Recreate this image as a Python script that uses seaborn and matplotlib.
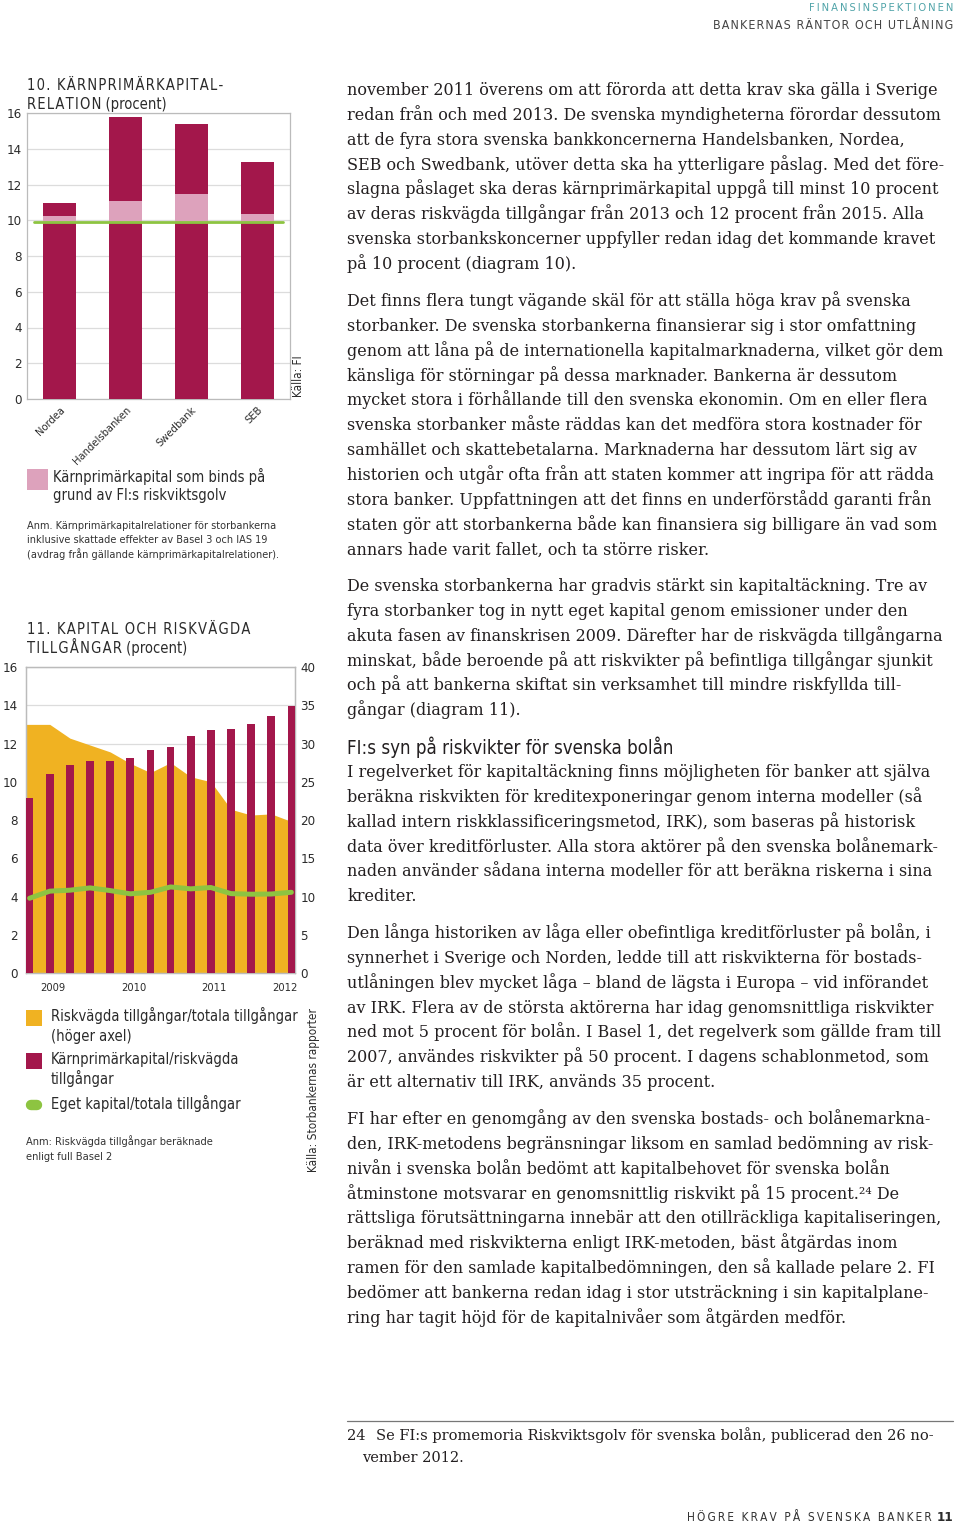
import numpy as np
import matplotlib
matplotlib.use("Agg")
import matplotlib.pyplot as plt
import seaborn as sns
from matplotlib.patches import Rectangle
from matplotlib.lines import Line2D

# ---------------- data ----------------
# Chart 10: Kärnprimärkapitalrelation (procent)
banks = ["Nordea", "Handelsbanken", "Swedbank", "SEB"]
karn_total = [10.97, 15.76, 15.39, 13.25]      # total bar height
floor_top = [10.22, 11.06, 11.47, 10.34]       # top of floor-bound (pink) part
floor_base = [9.9, 9.9, 9.9, 9.9]              # bottom of pink part
krav_level = 9.9                                # green requirement line
y10_ticks = [0, 2, 4, 6, 8, 10, 12, 14, 16]

# Chart 11: Kapital och riskvägda tillgångar (procent), quarterly 2009K1-2012K2
quarters = ["2009K1", "2009K2", "2009K3", "2009K4", "2010K1", "2010K2", "2010K3",
            "2010K4", "2011K1", "2011K2", "2011K3", "2011K4", "2012K1", "2012K2"]
karn_rwa = [9.17, 10.42, 10.85, 11.1, 11.1, 11.23, 11.67, 11.82, 12.4, 12.7,
            12.78, 13.04, 13.44, 13.97]
rwa_ta = [32.5, 32.5, 30.7, 29.8, 28.9, 27.4, 26.2, 27.5, 25.65, 25.0, 21.4,
          20.65, 20.8, 19.8]
eget_ta = [3.91, 4.28, 4.33, 4.45, 4.31, 4.14, 4.22, 4.5, 4.4, 4.47, 4.15,
           4.12, 4.13, 4.22]
years = ["2009", "2010", "2011", "2012"]
y11_left = [0, 2, 4, 6, 8, 10, 12, 14, 16]
y11_right = [0, 5, 10, 15, 20, 25, 30, 35, 40]

# ---------------- style ----------------
sns.set_theme(style="white")
plt.rcParams['font.family'] = ['DejaVu Sans']

CRIMSON = "#A3174B"
PINK = "#DDA2BC"
GREEN = "#8DC441"
ORANGE = "#F0B222"
GRID = "#DCDCDC"
SPINE = "#BBBBBB"
DARK = "#2B2B2B"
BODY = "#231F20"
TEAL = "#4FA3A8"
SANS = dict(family=['DejaVu Sans'], fontstretch='condensed')
SERIF = ['DejaVu Serif', 'Liberation Serif']

W, H = 960, 1524
fig = plt.figure(figsize=(W / 100, H / 100), dpi=100)
fig.patch.set_facecolor("white")


def ftext(x, y, s, **kw):
    return fig.text(x / W, 1 - y / H, s, **kw)


def rect(l, t, r, b):
    return [l / W, 1 - b / H, (r - l) / W, (b - t) / H]


def spaced(s, sep="\u200a"):
    return sep.join(s)


# ================= Chart 10 =================
ax10 = fig.add_axes(rect(27, 113, 290, 399))
sns.barplot(x=banks, y=karn_total, ax=ax10, color=CRIMSON, saturation=1, width=0.5,
            linewidth=0, zorder=2)
sns.barplot(x=banks, y=floor_top, ax=ax10, color=PINK, saturation=1, width=0.5,
            linewidth=0, zorder=3)
sns.barplot(x=banks, y=floor_base, ax=ax10, color=CRIMSON, saturation=1, width=0.5,
            linewidth=0, zorder=4)
ax10.axhline(krav_level, xmin=0.025, xmax=0.975, color=GREEN, lw=2, zorder=5)
ax10.set_ylim(0, 16)
ax10.set_xlim(-0.5, len(banks) - 0.5)
ax10.set_yticks(y10_ticks)
ax10.set_yticklabels([str(v) for v in y10_ticks], fontsize=9.5, color=DARK, **SANS)
ax10.yaxis.grid(True, color=GRID, lw=0.9, zorder=0)
ax10.set_axisbelow(True)
ax10.tick_params(axis='y', length=0, pad=4)
ax10.set_xticks(range(len(banks)))
ax10.set_xticklabels(banks, rotation=45, ha='right', va='top', rotation_mode='anchor',
                     fontsize=8.0, color=DARK, **SANS)
ax10.set_xticks(np.arange(len(banks) - 1) + 0.5, minor=True)
ax10.tick_params(axis='x', which='major', length=0, pad=4)
ax10.tick_params(axis='x', which='minor', length=7, width=0.8, color=SPINE, direction='out')
ax10.set_xlabel("")
ax10.set_ylabel("")
for sp in ax10.spines.values():
    sp.set_color(SPINE)
    sp.set_linewidth(0.9)

ftext(27, 90, spaced("10. KÄRNPRIMÄRKAPITAL-"), fontsize=10.5, color=DARK, va='baseline', **SANS)
ftext(27, 109, spaced("RELATION") + " (procent)", fontsize=10.5, color=DARK, va='baseline', **SANS)
ftext(298, 397, "Källa: FI", rotation=90, fontsize=8.5, color=DARK, ha='center', va='bottom', **SANS)

# legend chart 10
LEG_FS = 10.5
fig.add_artist(Rectangle((27 / W, 1 - 490 / H), 21 / W, 21 / H, transform=fig.transFigure,
                         facecolor=PINK, edgecolor='none'))
ftext(53, 482, "Kärnprimärkapital som binds på", fontsize=LEG_FS, color=DARK, va='baseline', **SANS)
ftext(53, 500, "grund av FI:s riskviktsgolv", fontsize=LEG_FS, color=DARK, va='baseline', **SANS)
for i, s in enumerate(["Anm. Kärnprimärkapitalrelationer för storbankerna",
                       "inklusive skattade effekter av Basel 3 och IAS 19",
                       "(avdrag från gällande kärnprimärkapitalrelationer)."]):
    ftext(27, 529 + 14.3 * i, s, fontsize=7.85, color="#333333", va='baseline', **SANS)

# ================= Chart 11 =================
n = len(quarters)
xq = np.arange(n)
xlim11 = (-0.18, n - 1 + 0.18)
ax_a = fig.add_axes(rect(26, 667, 295, 973))
ax_b = ax_a.twinx()

xa = np.r_[xlim11[0], xq, xlim11[1]]
ya = np.r_[rwa_ta[0], rwa_ta, rwa_ta[-1]]
ax_a.fill_between(xa, ya, color=ORANGE, lw=0, zorder=2)
ax_a.set_ylim(0, 40)
ax_a.yaxis.grid(True, color=GRID, lw=0.9, zorder=0)
ax_a.set_axisbelow(True)

sns.barplot(x=xq, y=karn_rwa, ax=ax_b, native_scale=True, color=CRIMSON, saturation=1,
            width=0.38, linewidth=0, zorder=3)
sns.lineplot(x=xq, y=eget_ta, ax=ax_b, color=GREEN, lw=3.6, sort=False, zorder=4,
             solid_capstyle='round', solid_joinstyle='round')
ax_b.set_ylim(0, 16)
ax_b.set_xlabel("")
ax_b.set_ylabel("")

# swap sides: left = bars/line scale, right = area scale
ax_b.yaxis.tick_left()
ax_a.yaxis.tick_right()
ax_b.set_yticks(y11_left)
ax_b.set_yticklabels([str(v) for v in y11_left], fontsize=9.5, color=DARK, **SANS)
ax_a.set_yticks(y11_right)
ax_a.set_yticklabels([str(v) for v in y11_right], fontsize=9.5, color=DARK, **SANS)
ax_b.tick_params(axis='y', length=0, pad=6)
ax_a.tick_params(axis='y', length=0, pad=4)

bounds = np.arange(1, len(years)) * 4 - 1 + 1 / 6
centers = [b - 2 for b in bounds] + [n - 1 - 0.32]
ax_a.set_xticks(bounds)
ax_a.set_xticklabels([""] * len(bounds))
ax_a.set_xticks(centers, minor=True)
ax_a.set_xticklabels(years, minor=True, fontsize=8, color=DARK, **SANS)
ax_a.tick_params(axis='x', which='major', length=4, width=0.8, color=SPINE, direction='out')
ax_a.tick_params(axis='x', which='minor', length=0, pad=7)
ax_a.set_xlim(*xlim11)
ax_b.set_xlim(*xlim11)
for a in (ax_a, ax_b):
    for sp in a.spines.values():
        sp.set_color(SPINE)
        sp.set_linewidth(0.9)

ftext(27, 634, spaced("11. KAPITAL OCH RISKVÄGDA"), fontsize=10.5, color=DARK, va='baseline', **SANS)
ftext(27, 653, spaced("TILLGÅNGAR") + " (procent)", fontsize=10.5, color=DARK, va='baseline', **SANS)
ftext(313, 1172, "Källa: Storbankernas rapporter", rotation=90, fontsize=8.5, color=DARK,
      ha='center', va='bottom', **SANS)

# legend chart 11
fig.add_artist(Rectangle((26 / W, 1 - 1026 / H), 16 / W, 16 / H, transform=fig.transFigure,
                         facecolor=ORANGE, edgecolor='none'))
fig.add_artist(Rectangle((26 / W, 1 - 1069 / H), 16 / W, 16 / H, transform=fig.transFigure,
                         facecolor=CRIMSON, edgecolor='none'))
fig.add_artist(Line2D([31 / W, 37 / W], [1 - 1105 / H] * 2, transform=fig.transFigure,
                      color=GREEN, lw=7.5, solid_capstyle='round'))
leg_lines = [(1021, "Riskvägda tillgångar/totala tillgångar"), (1041, "(höger axel)"),
             (1064, "Kärnprimärkapital/riskvägda"), (1084, "tillgångar"),
             (1109, "Eget kapital/totala tillgångar")]
for yb, s in leg_lines:
    ftext(51, yb, s, fontsize=LEG_FS, color=DARK, va='baseline', **SANS)
ftext(26, 1145, "Anm: Riskvägda tillgångar beräknade", fontsize=7.9, color="#333333", va='baseline', **SANS)
ftext(26, 1160, "enligt full Basel 2", fontsize=7.9, color="#333333", va='baseline', **SANS)

# ================= Header / footer =================
ftext(953, 11, spaced("FINANSINSPEKTIONEN", "\u2009"), fontsize=8.0, color=TEAL, ha='right',
      va='baseline', **SANS)
ftext(953, 29, spaced("BANKERNAS RÄNTOR OCH UTLÅNING"), fontsize=8.9, color="#444444", ha='right',
      va='baseline', **SANS)
ftext(953, 1521, "11", fontsize=9.5, color=DARK, ha='right', va='baseline', fontweight='bold', **SANS)
ftext(932, 1521, spaced("HÖGRE KRAV PÅ SVENSKA BANKER", "\u2009"), fontsize=8.5, color="#333333",
      ha='right', va='baseline', **SANS)

# ================= Body text =================
LS = 24.85
BODY_FS = 11.5
paras = [
    (95, [
        "november 2011 överens om att förorda att detta krav ska gälla i Sverige",
        "redan från och med 2013. De svenska myndigheterna förordar dessutom",
        "att de fyra stora svenska bankkoncernerna Handelsbanken, Nordea,",
        "SEB och Swedbank, utöver detta ska ha ytterligare påslag. Med det före-",
        "slagna påslaget ska deras kärnprimärkapital uppgå till minst 10 procent",
        "av deras riskvägda tillgångar från 2013 och 12 procent från 2015. Alla",
        "svenska storbankskoncerner uppfyller redan idag det kommande kravet",
        "på 10 procent (diagram 10).",
    ]),
    (306, [
        "Det finns flera tungt vägande skäl för att ställa höga krav på svenska",
        "storbanker. De svenska storbankerna finansierar sig i stor omfattning",
        "genom att låna på de internationella kapitalmarknaderna, vilket gör dem",
        "känsliga för störningar på dessa marknader. Bankerna är dessutom",
        "mycket stora i förhållande till den svenska ekonomin. Om en eller flera",
        "svenska storbanker måste räddas kan det medföra stora kostnader för",
        "samhället och skattebetalarna. Marknaderna har dessutom lärt sig av",
        "historien och utgår ofta från att staten kommer att ingripa för att rädda",
        "stora banker. Uppfattningen att det finns en underförstådd garanti från",
        "staten gör att storbankerna både kan finansiera sig billigare än vad som",
        "annars hade varit fallet, och ta större risker.",
    ]),
    (591, [
        "De svenska storbankerna har gradvis stärkt sin kapitaltäckning. Tre av",
        "fyra storbanker tog in nytt eget kapital genom emissioner under den",
        "akuta fasen av finanskrisen 2009. Därefter har de riskvägda tillgångarna",
        "minskat, både beroende på att riskvikter på befintliga tillgångar sjunkit",
        "och på att bankerna skiftat sin verksamhet till mindre riskfyllda till-",
        "gångar (diagram 11).",
    ]),
    (777, [
        "I regelverket för kapitaltäckning finns möjligheten för banker att själva",
        "beräkna riskvikten för kreditexponeringar genom interna modeller (så",
        "kallad intern riskklassificeringsmetod, IRK), som baseras på historisk",
        "data över kreditförluster. Alla stora aktörer på den svenska bolånemark-",
        "naden använder sådana interna modeller för att beräkna riskerna i sina",
        "krediter.",
    ]),
    (938, [
        "Den långa historiken av låga eller obefintliga kreditförluster på bolån, i",
        "synnerhet i Sverige och Norden, ledde till att riskvikterna för bostads-",
        "utlåningen blev mycket låga – bland de lägsta i Europa – vid införandet",
        "av IRK. Flera av de största aktörerna har idag genomsnittliga riskvikter",
        "ned mot 5 procent för bolån. I Basel 1, det regelverk som gällde fram till",
        "2007, användes riskvikter på 50 procent. I dagens schablonmetod, som",
        "är ett alternativ till IRK, används 35 procent.",
    ]),
    (1124, [
        "FI har efter en genomgång av den svenska bostads- och bolånemarkna-",
        "den, IRK-metodens begränsningar liksom en samlad bedömning av risk-",
        "nivån i svenska bolån bedömt att kapitalbehovet för svenska bolån",
        "åtminstone motsvarar en genomsnittlig riskvikt på 15 procent.\u00b2\u2074 De",
        "rättsliga förutsättningarna innebär att den otillräckliga kapitaliseringen,",
        "beräknad med riskvikterna enligt IRK-metoden, bäst åtgärdas inom",
        "ramen för den samlade kapitalbedömningen, den så kallade pelare 2. FI",
        "bedömer att bankerna redan idag i stor utsträckning i sin kapitalplane-",
        "ring har tagit höjd för de kapitalnivåer som åtgärden medför.",
    ]),
]
for y0, lines in paras:
    for i, s in enumerate(lines):
        ftext(347, y0 + LS * i, s, fontsize=BODY_FS, family=SERIF, color=BODY, va='baseline')

ftext(347, 754, "FI:s syn på riskvikter för svenska bolån", fontsize=13.4, color=BODY,
      va='baseline', **SANS)

# footnote
fig.add_artist(Line2D([347 / W, 953 / W], [1 - 1421 / H] * 2, transform=fig.transFigure,
                      color="#777777", lw=0.9))
FN_FS = 10.5
ftext(347, 1440, "24", fontsize=FN_FS, family=SERIF, color=BODY, va='baseline')
ftext(376, 1440, "Se FI:s promemoria Riskviktsgolv för svenska bolån, publicerad den 26 no-",
      fontsize=FN_FS, family=SERIF, color=BODY, va='baseline')
ftext(362, 1462, "vember 2012.", fontsize=FN_FS, family=SERIF, color=BODY, va='baseline')

fig.savefig("out.png", dpi=100, facecolor="white")
